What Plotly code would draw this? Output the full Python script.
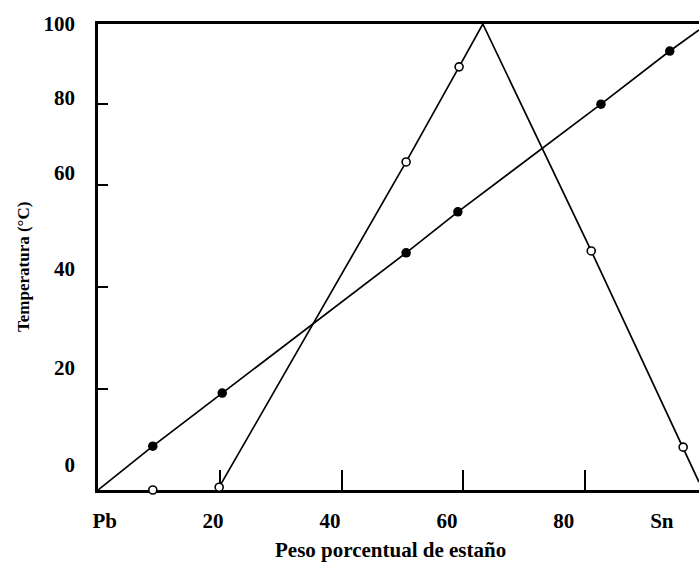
import plotly.graph_objects as go

# Solidus-type line (filled circles) — weight % Sn vs temperature
solid_x = [9.0, 20.4, 50.6, 59.1, 82.6, 93.9]
solid_y = [9.4, 20.8, 50.9, 59.7, 82.8, 94.2]
solid_line_x = [0.0, 9.0, 20.4, 50.6, 59.1, 82.6, 93.9, 98.7]
solid_line_y = [0.0, 9.4, 20.8, 50.9, 59.7, 82.8, 94.2, 98.7]

# Liquidus-type line (open circles)
open_x = [9.0, 19.9, 50.6, 59.3, 81.0, 96.1]
open_y = [0.0, 0.6, 70.4, 90.8, 51.3, 9.2]
open_line_x = [19.9, 50.6, 59.3, 63.2, 81.0, 96.1, 98.7]
open_line_y = [0.6, 70.4, 90.8, 100.0, 51.3, 9.2, 1.7]

# Axis labels and tick marks
x_label_pos = [1.1, 18.9, 38.1, 57.3, 76.5, 92.6]
x_labels = ["Pb", "20", "40", "60", "80", "Sn"]
x_tick_pos = [20, 40, 60, 80]
y_label_pos = [100, 84.1, 68.2, 47.6, 26.2, 5.4]
y_labels = ["100", "80", "60", "40", "20", "0"]
y_tick_pos = [82.8, 65.5, 43.6, 21.7]

FONT = "Liberation Serif"

fig = go.Figure()
fig.add_trace(go.Scatter(x=solid_line_x, y=solid_line_y, mode="lines",
                         line=dict(color="black", width=1.7),
                         hoverinfo="skip", cliponaxis=False))
fig.add_trace(go.Scatter(x=open_line_x, y=open_line_y, mode="lines",
                         line=dict(color="black", width=1.7),
                         hoverinfo="skip", cliponaxis=False))
fig.add_trace(go.Scatter(x=solid_x, y=solid_y, mode="markers",
                         marker=dict(color="black", size=9.5, line=dict(width=0)),
                         cliponaxis=False))
fig.add_trace(go.Scatter(x=open_x, y=open_y, mode="markers",
                         marker=dict(color="white", size=8,
                                     line=dict(color="black", width=1.6)),
                         cliponaxis=False))

tickfont = dict(family=FONT, size=21, color="black", weight="bold")

fig.update_layout(
    width=699, height=563,
    margin=dict(l=98, r=0, t=24, b=73),
    paper_bgcolor="white", plot_bgcolor="white",
    showlegend=False,
    xaxis=dict(range=[0, 98.7], showgrid=False, zeroline=False,
               showline=True, linecolor="black", linewidth=2.6, mirror=True,
               tickmode="array", tickvals=x_label_pos, ticktext=x_labels,
               ticks="", tickfont=tickfont, ticklabelstandoff=10,
               layer="below traces",
               minor=dict(tickmode="array", tickvals=x_tick_pos,
                          ticks="inside", ticklen=20, tickwidth=2,
                          tickcolor="black", showgrid=False)),
    yaxis=dict(range=[0, 100], showgrid=False, zeroline=False,
               showline=True, linecolor="black", linewidth=2.6,
               tickmode="array", tickvals=y_label_pos, ticktext=y_labels,
               ticks="", tickfont=tickfont, ticklabelstandoff=16,
               layer="below traces",
               minor=dict(tickmode="array", tickvals=y_tick_pos,
                          ticks="inside", ticklen=10, tickwidth=2,
                          tickcolor="black", showgrid=False)),
    annotations=[
        dict(text="Peso porcentual de estaño", xref="paper", yref="paper",
             x=0.4875, y=-0.1288, xanchor="center", yanchor="middle",
             showarrow=False,
             font=dict(family=FONT, size=21, color="black", weight="bold")),
        dict(text="Temperatura (°C)", xref="paper", yref="paper",
             x=-0.1248, y=0.4785, xanchor="center", yanchor="middle",
             textangle=-90, showarrow=False,
             font=dict(family=FONT, size=17, color="black", weight="bold")),
    ],
)

fig.write_html("out.html")
